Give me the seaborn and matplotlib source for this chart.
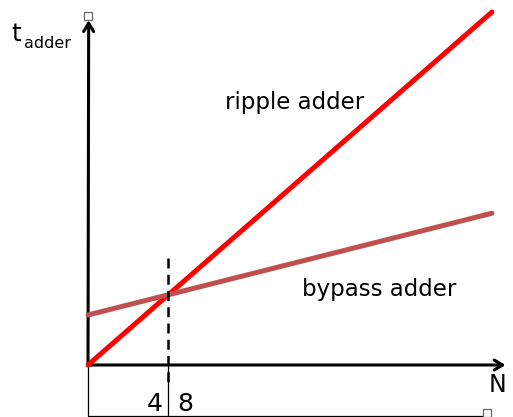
import numpy as np
import pandas as pd
import matplotlib
matplotlib.use("Agg")
import matplotlib.pyplot as plt
import seaborn as sns

# --- data (arbitrary units) ------------------------------------------------
n_values = [0, 30]
ripple_t = [0.0, 30.0]
bypass_t = [4.25, 12.9]
series_names = ["ripple adder", "bypass adder"]
series_colors = ["#FF0000", "#C0504D"]
tick_labels = ["4", "8"]

df = pd.DataFrame({
    "N": n_values * 2,
    "t": ripple_t + bypass_t,
    "adder": [series_names[0]] * 2 + [series_names[1]] * 2,
})

# crossing point of the two straight lines
slope_b = (bypass_t[1] - bypass_t[0]) / (n_values[1] - n_values[0])
slope_r = (ripple_t[1] - ripple_t[0]) / (n_values[1] - n_values[0])
n_cross = bypass_t[0] / (slope_r - slope_b)

sns.set_theme(style="white")
plt.rcParams["font.family"] = ["DejaVu Sans"]
plt.rcParams["text.color"] = "black"

fig = plt.figure(figsize=(5.13, 4.17), dpi=100)
ax = fig.add_axes([88 / 513, 52 / 417, 404 / 513, 353 / 417])

sns.lineplot(data=df, x="N", y="t", hue="adder", palette=series_colors,
             linewidth=3.6, legend=False, ax=ax, zorder=3)
for ln in ax.get_lines():
    ln.set_clip_on(False)
    ln.set_solid_capstyle("round")

ax.set_xlim(0, 30)
ax.set_ylim(0, 30)
ax.axis("off")

# axes drawn as open arrows
arrow = dict(arrowstyle="->,head_length=0.5,head_width=0.3", color="black",
             lw=2.2, shrinkA=0, shrinkB=0)
ax.annotate("", xy=(31.0, 0), xytext=(0, 0), arrowprops=arrow,
            annotation_clip=False, zorder=2)
ax.annotate("", xy=(0.05, 29.3), xytext=(0, 0), arrowprops=arrow,
            annotation_clip=False, zorder=2)

# thin frame below the x axis
ax.plot([0, 0, 29.4], [0, -4.35, -4.35], color="black", lw=0.9, clip_on=False)
ax.plot([n_cross, n_cross], [0, -4.35], color="black", lw=0.9, clip_on=False)

# dashed marker at the crossing
ax.plot([n_cross, n_cross], [9.1, -1.7], color="black", lw=1.8,
        linestyle=(0, (4, 2.5)), clip_on=False, zorder=4)

# small selection handles
ax.plot([0, 29.6], [29.7, -4.1], linestyle="none", marker="s", ms=6,
        mfc="white", mec="#666666", mew=0.9, clip_on=False)

# labels
ax.text(15.35, 22.3, series_names[0], fontsize=16.5, ha="center", va="center")
ax.text(21.6, 6.4, series_names[1], fontsize=16.5, ha="center", va="center")
ax.text(30.4, -1.7, "N", fontsize=17, ha="center", va="center")
ax.text(4.95, -3.3, tick_labels[0], fontsize=18, ha="center", va="center")
ax.text(7.25, -3.3, tick_labels[1], fontsize=18, ha="center", va="center")
ax.text(-4.95, 28.1, "t", fontsize=18, ha="right", va="center")
ax.text(-4.75, 27.35, "adder", fontsize=11.5, ha="left", va="center")

fig.savefig("out.png", dpi=100)
